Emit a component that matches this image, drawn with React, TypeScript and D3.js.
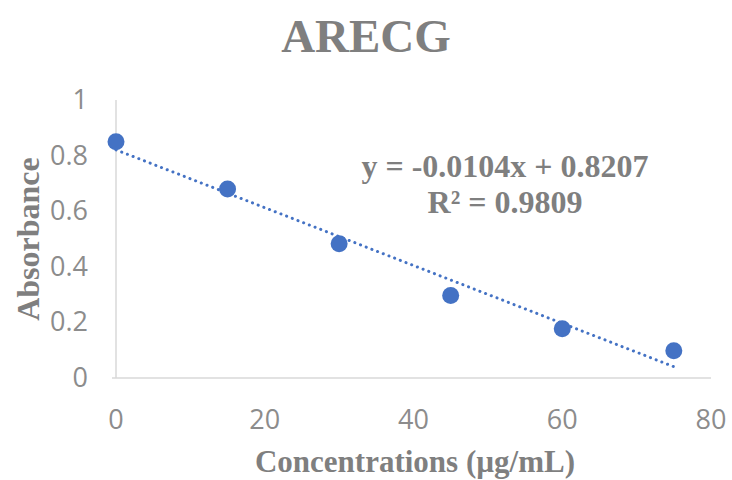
import React from 'react';
import * as d3 from 'd3';

const concentrations = [0, 15, 30, 45, 60, 75];
const absorbance = [0.85, 0.68, 0.483, 0.297, 0.177, 0.098];
const xTicks = [0, 20, 40, 60, 80];
const yTicks = [0, 0.2, 0.4, 0.6, 0.8, 1];
const slope = -0.0104;
const intercept = 0.8207;
const equationLines = ['y = -0.0104x + 0.8207', 'R² = 0.9809'];

const width = 732;
const height = 480;
const margin = { top: 100, right: 21, bottom: 102, left: 116 };

const serif = '"Liberation Serif", "Times New Roman", serif';
const sans = '"Open Sans", "Liberation Sans", sans-serif';

const App: React.FC = () => {
  const x = d3.scaleLinear().domain([0, 80]).range([margin.left, width - margin.right]);
  const y = d3.scaleLinear().domain([0, 1]).range([height - margin.bottom, margin.top]);

  const trend = d3
    .line<number>()
    .x((d) => x(d))
    .y((d) => y(slope * d + intercept))([0, 75]);

  const points = concentrations.map((c, i) => ({ c, a: absorbance[i] }));

  return (
    <svg width={width} height={height} style={{ position: 'absolute', left: 0, top: 0, background: '#fff' }}>
      <text x={366} y={52} textAnchor="middle" fontFamily={serif} fontWeight="bold" fontSize={47} fill="#7f7f7f">
        ARECG
      </text>

      {/* axes */}
      <line x1={x(0)} x2={x(0)} y1={y(1)} y2={y(0)} stroke="#d9d9d9" strokeWidth={1.5} />
      <line x1={x(0) - 4} x2={x(80)} y1={y(0)} y2={y(0)} stroke="#d9d9d9" strokeWidth={1.5} />

      {yTicks.map((t) => (
        <text key={t} x={88} y={y(t) + 9} textAnchor="end" fontFamily={sans} fontSize={27} fill="#8c8c8c">
          {t}
        </text>
      ))}
      {xTicks.map((t) => (
        <text key={t} x={x(t)} y={429} textAnchor="middle" fontFamily={sans} fontSize={27} fill="#8c8c8c">
          {t}
        </text>
      ))}

      <text
        transform={`translate(39,${(y(0) + y(1)) / 2}) rotate(-90)`}
        textAnchor="middle"
        fontFamily={serif}
        fontWeight="bold"
        fontSize={32}
        fill="#7f7f7f"
      >
        Absorbance
      </text>
      <text x={415} y={472} textAnchor="middle" fontFamily={serif} fontWeight="bold" fontSize={31} fill="#7f7f7f">
        Concentrations (µg/mL)
      </text>

      {/* trendline */}
      <path d={trend ?? ''} fill="none" stroke="#4472c4" strokeWidth={3} strokeDasharray="0.1 6" strokeLinecap="round" />

      {points.map((p) => (
        <circle key={p.c} cx={x(p.c)} cy={y(p.a)} r={8.5} fill="#4472c4" />
      ))}

      {equationLines.map((l, i) => (
        <text key={l} x={505} y={177 + i * 36} textAnchor="middle" fontFamily={serif} fontWeight="bold" fontSize={32} fill="#7f7f7f">
          {l}
        </text>
      ))}
    </svg>
  );
};

export default App;
